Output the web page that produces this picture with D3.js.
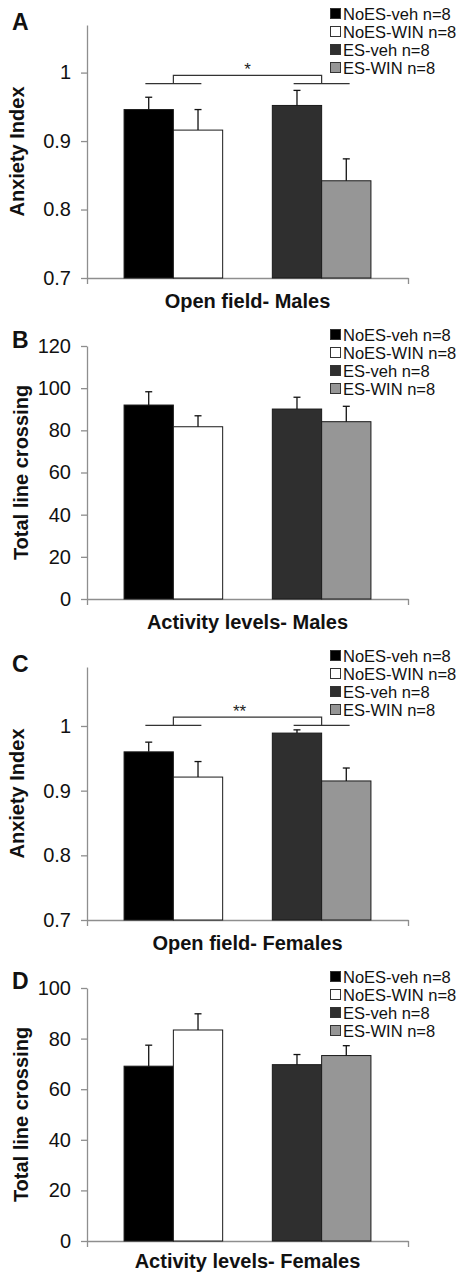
<html><head>
<script src="https://cdnjs.cloudflare.com/ajax/libs/d3/7.8.5/d3.min.js"></script>
<style>
  body { margin: 0; background: #fff; }
  svg { display: block; font-family: "Liberation Sans", Arial, sans-serif; }
  .tick text { font-size: 20px; fill: #111; }
  .axis path, .axis line { stroke: #8e8e8e; stroke-width: 1.3px; }
</style>
</head>
<body>
<svg id="chart" width="461" height="1274"></svg>
<script>
// groups and series
const groups = ["NoES", "ES"];
const series = ["veh", "WIN"];
const legendLabels = ["NoES-veh n=8", "NoES-WIN n=8", "ES-veh n=8", "ES-WIN n=8"];

// values, order: NoES-veh, NoES-WIN, ES-veh, ES-WIN
const anxietyMalesMean = [0.946, 0.916, 0.952, 0.842];
const anxietyMalesSem = [0.018, 0.030, 0.022, 0.032];
const activityMalesMean = [92.0, 81.7, 90.1, 84.1];
const activityMalesSem = [6.3, 5.2, 5.6, 7.3];
const anxietyFemalesMean = [0.960, 0.921, 0.989, 0.915];
const anxietyFemalesSem = [0.015, 0.024, 0.005, 0.020];
const activityFemalesMean = [69.1, 83.4, 69.7, 73.3];
const activityFemalesSem = [8.3, 6.4, 4.0, 3.9];

// axis ticks
const anxietyTicks = [0.7, 0.8, 0.9, 1];
const activityMalesTicks = [0, 20, 40, 60, 80, 100, 120];
const activityFemalesTicks = [0, 20, 40, 60, 80, 100];

const fills = ["#000000", "#ffffff", "#2f2f2f", "#969696"];

const panels = [
  { letter: "A", letterY: 30, ylabel: "Anxiety Index", labelX: 24, title: "Open field- Males",
    domain: [0.7, 1.0695], ticks: anxietyTicks, mean: anxietyMalesMean, sem: anxietyMalesSem,
    sig: { low: 0.984, high: 0.996, text: "*", dx: 0 } },
  { letter: "B", letterY: 27, ylabel: "Total line crossing", labelX: 28, title: "Activity levels- Males",
    domain: [0, 120], ticks: activityMalesTicks, mean: activityMalesMean, sem: activityMalesSem },
  { letter: "C", letterY: 30, ylabel: "Anxiety Index", labelX: 24, title: "Open field- Females",
    domain: [0.7, 1.0912], ticks: anxietyTicks, mean: anxietyFemalesMean, sem: anxietyFemalesSem,
    sig: { low: 1.001, high: 1.0137, text: "**", dx: -8 } },
  { letter: "D", letterY: 26, ylabel: "Total line crossing", labelX: 28, title: "Activity levels- Females",
    domain: [0, 100], ticks: activityFemalesTicks, mean: activityFemalesMean, sem: activityFemalesSem }
];

const svg = d3.select("#chart");
const plotL = 87, plotR = 408, plotT = 25, plotB = 278, panelH = 321;

const x0 = d3.scaleBand().domain(groups).range([plotL, plotR]).paddingInner(0.335).paddingOuter(0.25);
const x1 = d3.scaleBand().domain(series).range([0, x0.bandwidth()]);

panels.forEach((p, i) => {
  const g = svg.append("g").attr("transform", `translate(0,${i * panelH})`);
  const y = d3.scaleLinear().domain(p.domain).range([plotB, plotT]);

  const rows = p.mean.map((m, k) => ({
    group: groups[Math.floor(k / 2)], ser: series[k % 2], mean: m, sem: p.sem[k], k: k
  }));

  // axes
  g.append("g").attr("class", "axis")
    .attr("transform", `translate(${plotL},0)`)
    .call(d3.axisLeft(y).tickValues(p.ticks).tickSize(6).tickSizeOuter(0).tickPadding(10).tickFormat(d => String(d)))
    .call(a => a.attr("font-family", null).attr("font-size", null));

  g.append("g").attr("class", "axis")
    .attr("transform", `translate(0,${plotB})`)
    .call(d3.axisBottom(d3.scaleLinear().domain([0, 1]).range([plotL, plotR]))
      .tickValues([0, 1]).tickSize(6).tickSizeOuter(0).tickFormat(""));

  // bars
  g.selectAll("rect.bar").data(rows).join("rect")
    .attr("class", "bar")
    .attr("x", d => x0(d.group) + x1(d.ser))
    .attr("width", x1.bandwidth())
    .attr("y", d => y(d.mean))
    .attr("height", d => y(p.domain[0]) - y(d.mean))
    .attr("fill", d => fills[d.k])
    .attr("stroke", "#1a1a1a")
    .attr("stroke-width", 1);

  // error bars (upper only)
  const cx = d => x0(d.group) + x1(d.ser) + x1.bandwidth() / 2;
  g.selectAll("line.err").data(rows).join("line")
    .attr("class", "err")
    .attr("x1", cx).attr("x2", cx)
    .attr("y1", d => y(d.mean)).attr("y2", d => y(d.mean + d.sem))
    .attr("stroke", "#111").attr("stroke-width", 1.3);
  g.selectAll("line.cap").data(rows).join("line")
    .attr("class", "cap")
    .attr("x1", d => cx(d) - 3.5).attr("x2", d => cx(d) + 3.5)
    .attr("y1", d => y(d.mean + d.sem)).attr("y2", d => y(d.mean + d.sem))
    .attr("stroke", "#111").attr("stroke-width", 1.3);

  // significance bracket
  if (p.sig) {
    const gc = groups.map(gr => x0(gr) + x0.bandwidth() / 2);
    const yl = y(p.sig.low), yh = y(p.sig.high);
    gc.forEach(c => {
      g.append("line").attr("x1", c - 28).attr("x2", c + 28).attr("y1", yl).attr("y2", yl)
        .attr("stroke", "#333").attr("stroke-width", 1.2);
    });
    g.append("path")
      .attr("d", `M${gc[0]},${yl}V${yh}H${gc[1]}V${yl}`)
      .attr("fill", "none").attr("stroke", "#333").attr("stroke-width", 1.2);
    g.append("text")
      .attr("x", (gc[0] + gc[1]) / 2 + p.sig.dx).attr("y", yh - 0.5)
      .attr("text-anchor", "middle").attr("font-size", 17).attr("fill", "#222")
      .text(p.sig.text);
  }

  // legend
  const lg = g.append("g");
  legendLabels.forEach((t, k) => {
    const cy = 13.5 + k * 18;
    lg.append("rect").attr("x", 330.5).attr("y", cy - 5).attr("width", 10).attr("height", 10)
      .attr("fill", fills[k]).attr("stroke", "#333").attr("stroke-width", 1);
    lg.append("text").attr("x", 343).attr("y", cy + 6).attr("font-size", 16.5).attr("fill", "#111").text(t);
  });

  // panel letter, axis label, title
  g.append("text").attr("x", 12).attr("y", p.letterY)
    .attr("font-size", 23).attr("font-weight", "bold").attr("fill", "#111").text(p.letter);

  g.append("text")
    .attr("transform", `translate(${p.labelX},${(plotT + plotB) / 2}) rotate(-90)`)
    .attr("text-anchor", "middle").attr("font-size", 20).attr("font-weight", "bold").attr("fill", "#111")
    .text(p.ylabel);

  g.append("text").attr("x", (plotL + plotR) / 2).attr("y", i === 3 ? 305 : 308)
    .attr("text-anchor", "middle").attr("font-size", 20).attr("font-weight", "bold").attr("fill", "#111")
    .text(p.title);
});
</script>
</body></html>
